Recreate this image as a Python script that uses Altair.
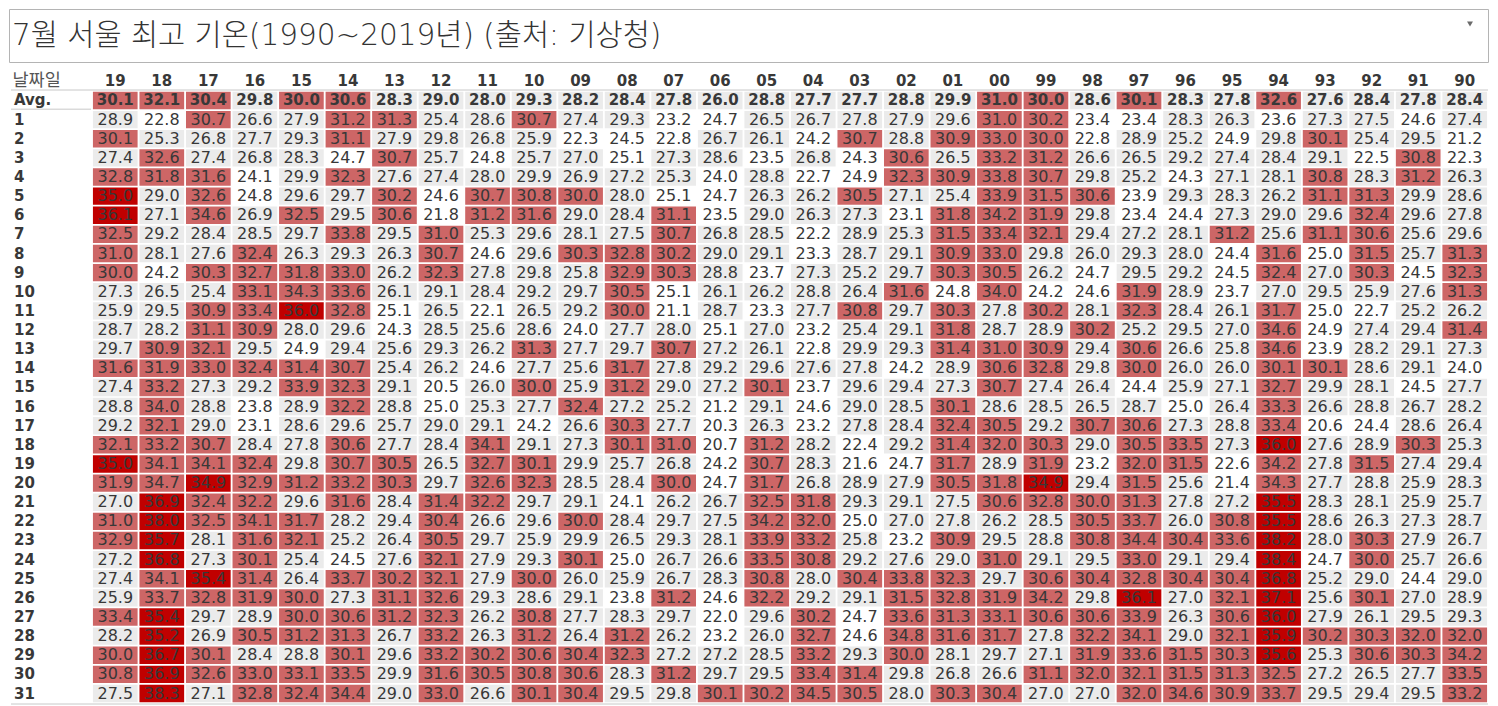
import altair as alt
import pandas as pd

TITLE = "7월 서울 최고 기온(1990~2019년) (출처: 기상청)"
HEADER = "날짜일"

years = ["19", "18", "17", "16", "15", "14", "13", "12", "11", "10",
         "09", "08", "07", "06", "05", "04", "03", "02", "01", "00",
         "99", "98", "97", "96", "95", "94", "93", "92", "91", "90"]
day_labels = ["Avg."] + [str(i) for i in range(1, 32)]

avg = [30.1, 32.1, 30.4, 29.8, 30.0, 30.6, 28.3, 29.0, 28.0, 29.3, 28.2, 28.4, 27.8, 26.0, 28.8, 27.7, 27.7, 28.8, 29.9, 31.0, 30.0, 28.6, 30.1, 28.3, 27.8, 32.6, 27.6, 28.4, 27.8, 28.4]
d01 = [28.9, 22.8, 30.7, 26.6, 27.9, 31.2, 31.3, 25.4, 28.6, 30.7, 27.4, 29.3, 23.2, 24.7, 26.5, 26.7, 27.8, 27.9, 29.6, 31.0, 30.2, 23.4, 23.4, 28.3, 26.3, 23.6, 27.3, 27.5, 24.6, 27.4]
d02 = [30.1, 25.3, 26.8, 27.7, 29.3, 31.1, 27.9, 29.8, 26.8, 25.9, 22.3, 24.5, 22.8, 26.7, 26.1, 24.2, 30.7, 28.8, 30.9, 33.0, 30.0, 22.8, 28.9, 25.2, 24.9, 29.8, 30.1, 25.4, 29.5, 21.2]
d03 = [27.4, 32.6, 27.4, 26.8, 28.3, 24.7, 30.7, 25.7, 24.8, 25.7, 27.0, 25.1, 27.3, 28.6, 23.5, 26.8, 24.3, 30.6, 26.5, 33.2, 31.2, 26.6, 26.5, 29.2, 27.4, 28.4, 29.1, 22.5, 30.8, 22.3]
d04 = [32.8, 31.8, 31.6, 24.1, 29.9, 32.3, 27.6, 27.4, 28.0, 29.9, 26.9, 27.2, 25.3, 24.0, 28.8, 22.7, 24.9, 32.3, 30.9, 33.8, 30.7, 29.8, 25.2, 24.3, 27.1, 28.1, 30.8, 28.3, 31.2, 26.3]
d05 = [35.0, 29.0, 32.6, 24.8, 29.6, 29.7, 30.2, 24.6, 30.7, 30.8, 30.0, 28.0, 25.1, 24.7, 26.3, 26.2, 30.5, 27.1, 25.4, 33.9, 31.5, 30.6, 23.9, 29.3, 28.3, 26.2, 31.1, 31.3, 29.9, 28.6]
d06 = [36.1, 27.1, 34.6, 26.9, 32.5, 29.5, 30.6, 21.8, 31.2, 31.6, 29.0, 28.4, 31.1, 23.5, 29.0, 26.3, 27.3, 23.1, 31.8, 34.2, 31.9, 29.8, 23.4, 24.4, 27.3, 29.0, 29.6, 32.4, 29.6, 27.8]
d07 = [32.5, 29.2, 28.4, 28.5, 29.7, 33.8, 29.5, 31.0, 25.3, 29.6, 28.1, 27.5, 30.7, 26.8, 28.5, 22.2, 28.9, 25.3, 31.5, 33.4, 32.1, 29.4, 27.2, 28.1, 31.2, 25.6, 31.1, 30.6, 25.6, 29.6]
d08 = [31.0, 28.1, 27.6, 32.4, 26.3, 29.3, 26.3, 30.7, 24.6, 29.6, 30.3, 32.8, 30.2, 29.0, 29.1, 23.3, 28.7, 29.1, 30.9, 33.0, 29.8, 26.0, 29.3, 28.0, 24.4, 31.6, 25.0, 31.5, 25.7, 31.3]
d09 = [30.0, 24.2, 30.3, 32.7, 31.8, 33.0, 26.2, 32.3, 27.8, 29.8, 25.8, 32.9, 30.3, 28.8, 23.7, 27.3, 25.2, 29.7, 30.3, 30.5, 26.2, 24.7, 29.5, 29.2, 24.5, 32.4, 27.0, 30.3, 24.5, 32.3]
d10 = [27.3, 26.5, 25.4, 33.1, 34.3, 33.6, 26.1, 29.1, 28.4, 29.2, 29.7, 30.5, 25.1, 26.1, 26.2, 28.8, 26.4, 31.6, 24.8, 34.0, 24.2, 24.6, 31.9, 28.9, 23.7, 27.0, 29.5, 25.9, 27.6, 31.3]
d11 = [25.9, 29.5, 30.9, 33.4, 36.0, 32.8, 25.1, 26.5, 22.1, 26.5, 29.2, 30.0, 21.1, 28.7, 23.3, 27.7, 30.8, 29.7, 30.3, 27.8, 30.2, 28.1, 32.3, 28.4, 26.1, 31.7, 25.0, 22.7, 25.2, 26.2]
d12 = [28.7, 28.2, 31.1, 30.9, 28.0, 29.6, 24.3, 28.5, 25.6, 28.6, 24.0, 27.7, 28.0, 25.1, 27.0, 23.2, 25.4, 29.1, 31.8, 28.7, 28.9, 30.2, 25.2, 29.5, 27.0, 34.6, 24.9, 27.4, 29.4, 31.4]
d13 = [29.7, 30.9, 32.1, 29.5, 24.9, 29.4, 25.6, 29.3, 26.2, 31.3, 27.7, 29.7, 30.7, 27.2, 26.1, 22.8, 29.9, 29.3, 31.4, 31.0, 30.9, 29.4, 30.6, 26.6, 25.8, 34.6, 23.9, 28.2, 29.1, 27.3]
d14 = [31.6, 31.9, 33.0, 32.4, 31.4, 30.7, 25.4, 26.2, 24.6, 27.7, 25.6, 31.7, 27.8, 29.2, 29.6, 27.6, 27.8, 24.2, 28.9, 30.6, 32.8, 29.8, 30.0, 26.0, 26.0, 30.1, 30.1, 28.6, 29.1, 24.0]
d15 = [27.4, 33.2, 27.3, 29.2, 33.9, 32.3, 29.1, 20.5, 26.0, 30.0, 25.9, 31.2, 29.0, 27.2, 30.1, 23.7, 29.6, 29.4, 27.3, 30.7, 27.4, 26.4, 24.4, 25.9, 27.1, 32.7, 29.9, 28.1, 24.5, 27.7]
d16 = [28.8, 34.0, 28.8, 23.8, 28.9, 32.2, 28.8, 25.0, 25.3, 27.7, 32.4, 27.2, 25.2, 21.2, 29.1, 24.6, 29.0, 28.5, 30.1, 28.6, 28.5, 26.5, 28.7, 25.0, 26.4, 33.3, 26.6, 28.8, 26.7, 28.2]
d17 = [29.2, 32.1, 29.0, 23.1, 28.6, 29.6, 25.7, 29.0, 29.1, 24.2, 26.6, 30.3, 27.7, 20.3, 26.3, 23.2, 27.8, 28.4, 32.4, 30.5, 29.2, 30.7, 30.6, 27.3, 28.8, 33.4, 20.6, 24.4, 28.6, 26.4]
d18 = [32.1, 33.2, 30.7, 28.4, 27.8, 30.6, 27.7, 28.4, 34.1, 29.1, 27.3, 30.1, 31.0, 20.7, 31.2, 28.2, 22.4, 29.2, 31.4, 32.0, 30.3, 29.0, 30.5, 33.5, 27.3, 36.0, 27.6, 28.9, 30.3, 25.3]
d19 = [35.0, 34.1, 34.1, 32.4, 29.8, 30.7, 30.5, 26.5, 32.7, 30.1, 29.9, 25.7, 26.8, 24.2, 30.7, 28.3, 21.6, 24.7, 31.7, 28.9, 31.9, 23.2, 32.0, 31.5, 22.6, 34.2, 27.8, 31.5, 27.4, 29.4]
d20 = [31.9, 34.7, 34.9, 32.9, 31.2, 33.2, 30.3, 29.7, 32.6, 32.3, 28.5, 28.4, 30.0, 24.7, 31.7, 26.8, 28.9, 27.9, 30.5, 31.8, 34.9, 29.4, 31.5, 25.6, 21.4, 34.3, 27.7, 28.8, 25.9, 28.3]
d21 = [27.0, 36.9, 32.4, 32.2, 29.6, 31.6, 28.4, 31.4, 32.2, 29.7, 29.1, 24.1, 26.2, 26.7, 32.5, 31.8, 29.3, 29.1, 27.5, 30.6, 32.8, 30.0, 31.3, 27.8, 27.2, 35.5, 28.3, 28.1, 25.9, 25.7]
d22 = [31.0, 38.0, 32.5, 34.1, 31.7, 28.2, 29.4, 30.4, 26.6, 29.6, 30.0, 28.4, 29.7, 27.5, 34.2, 32.0, 25.0, 27.0, 27.8, 26.2, 28.5, 30.5, 33.7, 26.0, 30.8, 35.5, 28.6, 26.3, 27.3, 28.7]
d23 = [32.9, 35.7, 28.1, 31.6, 32.1, 25.2, 26.4, 30.5, 29.7, 25.9, 29.9, 26.5, 29.3, 28.1, 33.9, 33.2, 25.8, 23.2, 30.9, 29.5, 28.8, 30.8, 34.4, 30.4, 33.6, 38.2, 28.0, 30.3, 27.9, 26.7]
d24 = [27.2, 36.8, 27.3, 30.1, 25.4, 24.5, 27.6, 32.1, 27.9, 29.3, 30.1, 25.0, 26.7, 26.6, 33.5, 30.8, 29.2, 27.6, 29.0, 31.0, 29.1, 29.5, 33.0, 29.1, 29.4, 38.4, 24.7, 30.0, 25.7, 26.6]
d25 = [27.4, 34.1, 35.4, 31.4, 26.4, 33.7, 30.2, 32.1, 27.9, 30.0, 26.0, 25.9, 26.7, 28.3, 30.8, 28.0, 30.4, 33.8, 32.3, 29.7, 30.6, 30.4, 32.8, 30.4, 30.4, 36.8, 25.2, 29.0, 24.4, 29.0]
d26 = [25.9, 33.7, 32.8, 31.9, 30.0, 27.3, 31.1, 32.6, 29.3, 28.6, 29.1, 23.8, 31.2, 24.6, 32.2, 29.2, 29.1, 31.5, 32.8, 31.9, 34.2, 29.8, 36.1, 27.0, 32.1, 37.1, 25.6, 30.1, 27.0, 28.9]
d27 = [33.4, 35.4, 29.7, 28.9, 30.0, 30.6, 31.2, 32.3, 26.2, 30.8, 27.7, 28.3, 29.7, 22.0, 29.6, 30.2, 24.7, 33.6, 31.3, 33.1, 30.6, 30.6, 33.9, 26.3, 30.6, 36.0, 27.9, 26.1, 29.5, 29.3]
d28 = [28.2, 35.2, 26.9, 30.5, 31.2, 31.3, 26.7, 33.2, 26.3, 31.2, 26.4, 31.2, 26.2, 23.2, 26.0, 32.7, 24.6, 34.8, 31.6, 31.7, 27.8, 32.2, 34.1, 29.0, 32.1, 35.9, 30.2, 30.3, 32.0, 32.0]
d29 = [30.0, 36.7, 30.1, 28.4, 28.8, 30.1, 29.6, 33.2, 30.2, 30.6, 30.4, 32.3, 27.2, 27.2, 28.5, 33.2, 29.3, 30.0, 28.1, 29.7, 27.1, 31.9, 33.6, 31.5, 30.3, 35.6, 25.3, 30.6, 30.3, 34.2]
d30 = [30.8, 36.9, 32.6, 33.0, 33.1, 33.5, 29.9, 31.6, 30.5, 30.8, 30.6, 28.3, 31.2, 29.7, 29.5, 33.4, 31.4, 29.8, 26.8, 26.6, 31.1, 32.0, 32.1, 31.5, 31.3, 32.5, 27.2, 26.5, 27.7, 33.5]
d31 = [27.5, 38.3, 27.1, 32.8, 32.4, 34.4, 29.0, 33.0, 26.6, 30.1, 30.4, 29.5, 29.8, 30.1, 30.2, 34.5, 30.5, 28.0, 30.3, 30.4, 27.0, 27.0, 32.0, 34.6, 30.9, 33.7, 29.5, 29.4, 29.5, 33.2]

rows = [avg, d01, d02, d03, d04, d05, d06, d07, d08, d09, d10, d11, d12, d13, d14, d15,
        d16, d17, d18, d19, d20, d21, d22, d23, d24, d25, d26, d27, d28, d29, d30, d31]

# colour bands (white / grey / red / dark red)
band_limits = [25.15, 29.95, 34.85]
band_colors = ["#ffffff", "#ebebeb", "#cd6666", "#c00000"]

records = []
for lab, vals in zip(day_labels, rows):
    for yr, v in zip(years, vals):
        records.append({"day": lab, "year": yr, "temp": v, "label": f"{v:.1f}"})
df = pd.DataFrame(records)

W = 1479
H = 612
TXT = "#383838"
NUMFONT = "DejaVu Sans"
KFONT = "Noto Sans CJK KR"
TFONT = '"DejaVu Sans", "Noto Sans CJK KR"'

xsc = alt.Scale(domain=years, range=[83, W], paddingInner=0.04, paddingOuter=0.02)
ysc = alt.Scale(domain=day_labels, paddingInner=0.09, paddingOuter=0.04)

x_enc = alt.X("year:N", scale=xsc, sort=years,
              axis=alt.Axis(orient="top", title=HEADER, ticks=False, tickSize=0, domain=False,
                            grid=False, labelAngle=0, labelPadding=11, labelBaseline="middle",
                            labelFont=NUMFONT, labelFontSize=15, labelFontWeight="bold",
                            labelColor=TXT, titleFont=KFONT, titleFontSize=17.5,
                            titleFontWeight="normal", titleColor="#555555", titleAlign="left",
                            titleBaseline="middle", titleAnchor="start", titleX=3, titleY=-11))
y_enc = alt.Y("day:N", scale=ysc, sort=day_labels, axis=None)

base = alt.Chart(df)
cells = base.mark_rect().encode(
    x=x_enc, y=y_enc,
    color=alt.Color("temp:Q", scale=alt.Scale(type="threshold", domain=band_limits, range=band_colors),
                    legend=None),
)
txt_days = base.transform_filter("datum.day != 'Avg.'").mark_text(
    font=NUMFONT, fontSize=16, color=TXT).encode(x=x_enc, y=y_enc, text="label:N")
txt_avg = base.transform_filter("datum.day == 'Avg.'").mark_text(
    font=NUMFONT, fontSize=15, fontWeight="bold", color=TXT).encode(x=x_enc, y=y_enc, text="label:N")

lab_df = pd.DataFrame({"day": day_labels})
row_labels = alt.Chart(lab_df).mark_text(
    align="left", font=NUMFONT, fontSize=15, fontWeight="bold", color=TXT).encode(
    x=alt.value(5), y=y_enc, text="day:N")

one = pd.DataFrame({"day": ["Avg."]})
rule_top = alt.Chart(one).mark_rule(color="#c8c8c8", strokeWidth=1).encode(
    x=alt.value(2), x2=alt.value(W), y=alt.value(-1))
rule_avg = alt.Chart(one).mark_rule(color="#c8c8c8", strokeWidth=1).encode(
    x=alt.value(2), x2=alt.value(82), y=alt.Y("day:N", scale=ysc, sort=day_labels, axis=None, bandPosition=1))
rule_bot = alt.Chart(one).mark_rule(color="#c8c8c8", strokeWidth=1).encode(
    x=alt.value(2), x2=alt.value(W), y=alt.value(H + 1))

table = alt.layer(cells, txt_days, txt_avg, row_labels, rule_top, rule_avg, rule_bot).properties(
    width=W, height=H)

title_df = pd.DataFrame({"t": [TITLE]})
title_txt = alt.Chart(title_df).mark_text(
    align="left", baseline="middle", font=TFONT, fontSize=29.5, fontWeight=200, color="#333333").encode(
    x=alt.value(3), y=alt.value(27), text="t:N")
tri = alt.Chart(title_df).mark_point(shape="triangle-down", filled=True, size=35, color="#6a6a6a",
                                     opacity=1).encode(x=alt.value(1461), y=alt.value(15))
title_panel = alt.layer(title_txt, tri).properties(
    width=W, height=53, view=alt.ViewBackground(stroke="#b4b4b4", strokeWidth=1))

chart = alt.vconcat(title_panel, table, spacing=7).properties(padding=0).configure_view(
    stroke="transparent")

chart.save("out.html", embed_options={"renderer": "svg", "actions": False})
